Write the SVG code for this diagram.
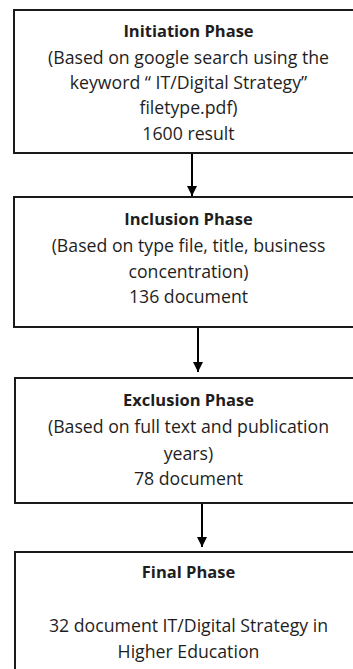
<svg xmlns="http://www.w3.org/2000/svg" width="353" height="669" viewBox="0 0 353 669">
<style>
.box{fill:#fff;stroke:#1a1a1a;stroke-width:2}
.t{font-family:"Open Sans","Noto Sans",sans-serif;font-size:17.7px;fill:#1e1e1e;text-anchor:middle}
.b{font-weight:bold;font-size:16.5px}
.c{stroke:#000;stroke-width:2;fill:none}
</style>
<defs>
<marker id="ah" markerUnits="userSpaceOnUse" markerWidth="12" markerHeight="10" refX="10" refY="5" orient="auto">
<path d="M0,0 L10,5 L0,10 Z" fill="#000"/>
</marker>
</defs>
<rect width="353" height="669" fill="#fff"/>
<g id="connectors">
<line class="c" x1="192" y1="153" x2="192" y2="196" marker-end="url(#ah)"/>
<line class="c" x1="198" y1="327" x2="198" y2="372" marker-end="url(#ah)"/>
<line class="c" x1="202" y1="503" x2="202" y2="547" marker-end="url(#ah)"/>
</g>
<g id="initiation">
<rect class="box" x="14" y="10" width="360" height="143"/>
<text class="t b" x="188.5" y="37">Initiation Phase</text>
<text class="t" x="188.5" y="63.5">(Based on google search using the</text>
<text class="t" x="188.5" y="88.5">keyword “ IT/Digital Strategy”</text>
<text class="t" x="188.5" y="113.5">filetype.pdf)</text>
<text class="t" x="188.5" y="139.5">1600 result</text>
</g>
<g id="inclusion">
<rect class="box" x="14" y="197" width="360" height="130"/>
<text class="t b" x="188.5" y="224.5">Inclusion Phase</text>
<text class="t" x="188.5" y="251.5">(Based on type file, title, business</text>
<text class="t" x="188.5" y="278">concentration)</text>
<text class="t" x="188.5" y="303">136 document</text>
</g>
<g id="exclusion">
<rect class="box" x="15" y="378" width="360" height="125"/>
<text class="t b" x="188.5" y="406">Exclusion Phase</text>
<text class="t" x="188.5" y="433">(Based on full text and publication</text>
<text class="t" x="188.5" y="459.5">years)</text>
<text class="t" x="188.5" y="484.5">78 document</text>
</g>
<g id="final">
<rect class="box" x="15" y="552" width="360" height="130"/>
<text class="t b" x="188.5" y="577.5">Final Phase</text>
<text class="t" x="188.5" y="631.5">32 document IT/Digital Strategy in</text>
<text class="t" x="188.5" y="658">Higher Education</text>
</g>
</svg>
